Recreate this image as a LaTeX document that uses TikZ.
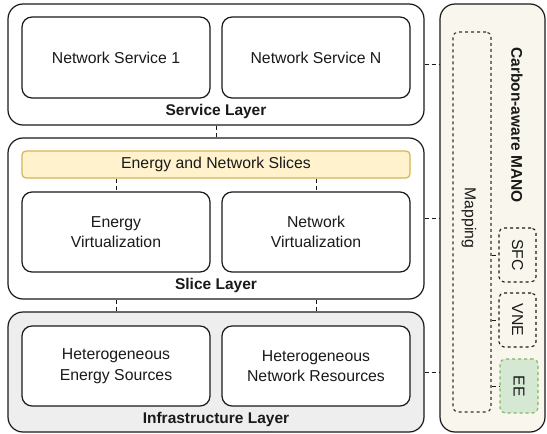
\documentclass[tikz,border=0pt]{standalone}
\usepackage{fontspec}
\setmainfont{Liberation Sans}
\definecolor{slicefill}{HTML}{FFF2CC}
\definecolor{slicedraw}{HTML}{D6B656}
\definecolor{eefill}{HTML}{D5E8D4}
\definecolor{eedraw}{HTML}{82B366}
\definecolor{manofill}{HTML}{F9F7ED}
\definecolor{infrafill}{HTML}{EEEEEE}
\definecolor{ink}{HTML}{1A1A1A}
\begin{document}
\begin{tikzpicture}[x=1pt,y=-1pt,
  every node/.style={font=\fontsize{15.8}{20.5}\selectfont, text=ink},
  layer/.style={draw=ink, line width=1.2pt, rounded corners=15pt, inner sep=0pt},
  inbox/.style={draw=ink, fill=white, line width=1.2pt, rounded corners=10pt, minimum width=188pt, minimum height=81pt, align=center, inner sep=0pt},
  layerlabel/.style={font=\fontsize{15.5}{18}\selectfont\bfseries},
  conn/.style={draw=ink, line width=1pt, dash pattern=on 4pt off 3pt},
  smallbox/.style={draw=ink, line width=1.1pt, dash pattern=on 3pt off 3pt, rounded corners=5pt, minimum width=37pt, minimum height=54pt, inner sep=0pt}
]
\useasboundingbox (0,0) rectangle (547,434);

% Layers
\node[layer, fill=white, minimum width=416pt, minimum height=121pt] (service) at (216,64.5) {};
\node[layer, fill=white, minimum width=416pt, minimum height=161pt] (slice) at (216,218.5) {};
\node[layer, fill=infrafill, minimum width=416pt, minimum height=120pt] (infra) at (216,372) {};

% Service layer content
\node[inbox] (ns1) at (116,57.5) {Network Service 1};
\node[inbox] (nsn) at (316,57.5) {Network Service N};
\node[layerlabel] (servlabel) at (216,111) {Service Layer};

% Slice layer content
\node[draw=slicedraw, fill=slicefill, line width=1.2pt, rounded corners=4pt, minimum width=388pt, minimum height=27pt, inner sep=0pt] (bar) at (216,164.5) {Energy and Network Slices};
\node[inbox, minimum height=80pt] (ev) at (116,232) {Energy\\Virtualization};
\node[inbox, minimum height=80pt] (nv) at (316,232) {Network\\Virtualization};
\node[layerlabel] (slicelabel) at (216,285) {Slice Layer};

% Infrastructure layer content
\node[inbox, minimum height=80pt] (hes) at (116,366) {Heterogeneous\\Energy Sources};
\node[inbox, minimum height=80pt] (hnr) at (316,366) {Heterogeneous\\Network Resources};
\node[layerlabel] (infralabel) at (216,419) {Infrastructure Layer};

% MANO
\node[draw=ink, fill=manofill, line width=1.2pt, rounded corners=15pt, minimum width=105pt, minimum height=428pt, inner sep=0pt] (mano) at (492.5,218) {};
\node[layerlabel, rotate=-90] (manolabel) at (517,125) {Carbon-aware MANO};
\node[draw=black!80, line width=1.1pt, dash pattern=on 3pt off 3pt, rounded corners=5pt, minimum width=38pt, minimum height=380pt, inner sep=0pt] (map) at (472,222) {};
\node[rotate=-90] (maplabel) at (469,218) {Mapping};
\node[smallbox] (sfc) at (517.5,255) {};
\node[rotate=-90] at (sfc.center) {SFC};
\node[smallbox] (vne) at (517.5,320) {};
\node[rotate=-90] at (vne.center) {VNE};
\node[smallbox, draw=eedraw, fill=eefill, minimum width=38pt] (ee) at (519,386) {};
\node[rotate=-90] at (ee.center) {EE};

% Connectors
\draw[conn] (service.south) -- (slice.north);
\draw[conn] (ev.north |- bar.south) -- (ev.north);
\draw[conn] (nv.north |- bar.south) -- (nv.north);
\draw[conn] (slice.south -| ev.north) -- (infra.north -| ev.north);
\draw[conn] (slice.south -| nv.north) -- (infra.north -| nv.north);
\draw[conn] (service.east) -- (service.east -| mano.west);
\draw[conn] (slice.east) -- (slice.east -| mano.west);
\draw[conn] (infra.east) -- (infra.east -| mano.west);
\draw[conn] (sfc.west -| map.east) -- (sfc.west);
\draw[conn] (vne.west -| map.east) -- (vne.west);
\draw[conn] (ee.west -| map.east) -- (ee.west);
\end{tikzpicture}
\end{document}
